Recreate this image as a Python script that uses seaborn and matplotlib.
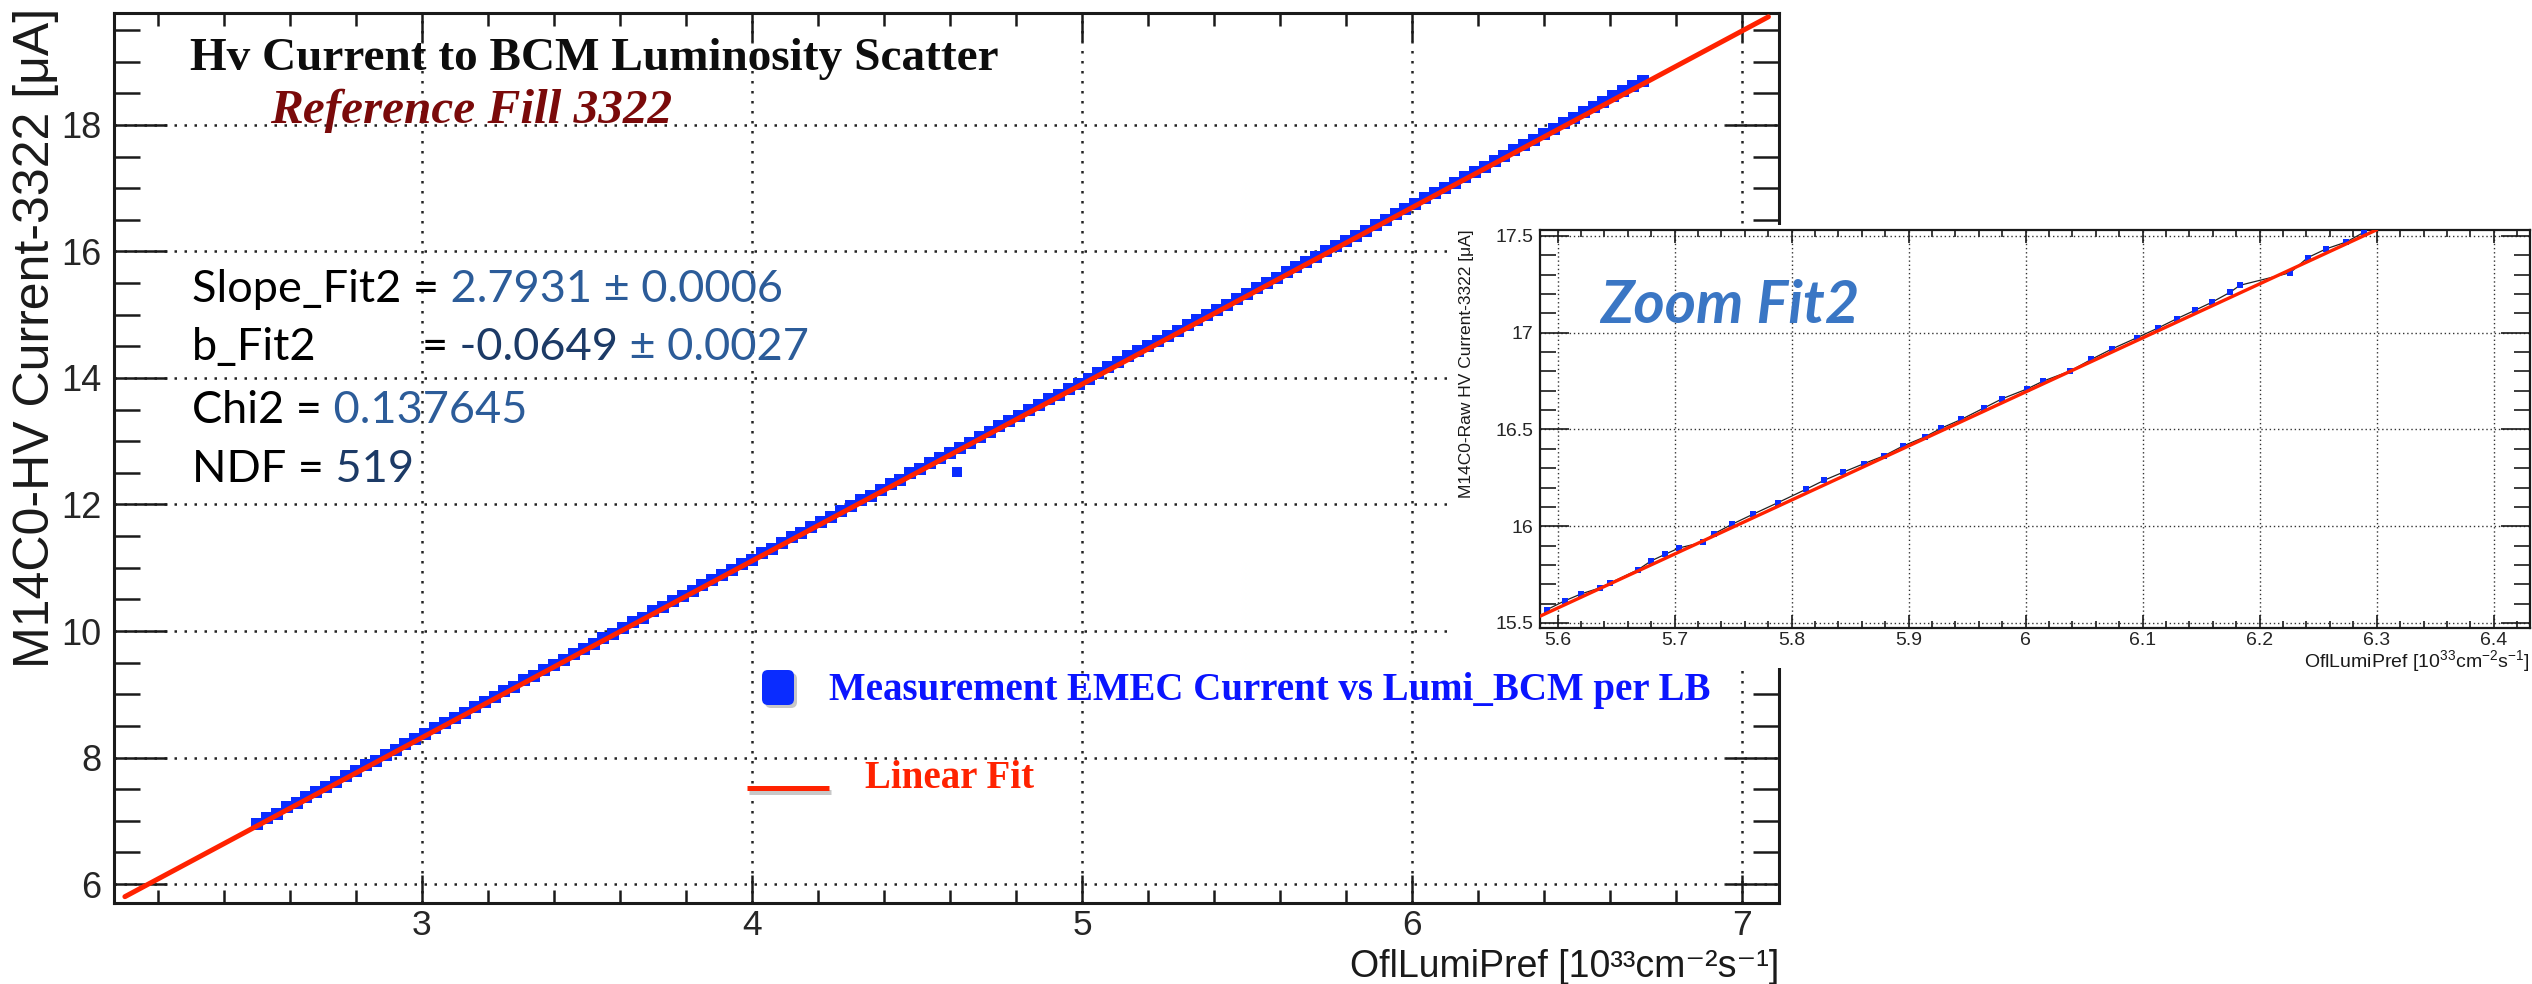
import numpy as np
import pandas as pd
import matplotlib
matplotlib.use("Agg")
import matplotlib.pyplot as plt
import seaborn as sns
from matplotlib.ticker import MultipleLocator
from matplotlib.patches import Rectangle, FancyBboxPatch
from matplotlib.lines import Line2D
from matplotlib.transforms import IdentityTransform

# ---------------- data ----------------
lumi = [2.50, 2.53, 2.56, 2.59, 2.62, 2.65, 2.68, 2.71, 2.74, 2.77,
        2.80, 2.83, 2.86, 2.89, 2.92, 2.95, 2.98, 3.01, 3.04, 3.07,
        3.10, 3.13, 3.16, 3.19, 3.22, 3.25, 3.28, 3.31, 3.34, 3.37,
        3.40, 3.43, 3.46, 3.49, 3.52, 3.55, 3.58, 3.61, 3.64, 3.67,
        3.70, 3.73, 3.76, 3.79, 3.82, 3.85, 3.88, 3.91, 3.94, 3.97,
        4.00, 4.03, 4.06, 4.09, 4.12, 4.15, 4.18, 4.21, 4.24, 4.27,
        4.30, 4.33, 4.36, 4.39, 4.42, 4.45, 4.48, 4.51, 4.54, 4.57,
        4.60, 4.63, 4.66, 4.69, 4.72, 4.75, 4.78, 4.81, 4.84, 4.87,
        4.90, 4.93, 4.96, 4.99, 5.02, 5.05, 5.08, 5.11, 5.14, 5.17,
        5.20, 5.23, 5.26, 5.29, 5.32, 5.35, 5.38, 5.41, 5.44, 5.47,
        5.50, 5.53, 5.56, 5.59, 5.62, 5.65, 5.68, 5.71, 5.74, 5.77,
        5.80, 5.83, 5.86, 5.89, 5.92, 5.95, 5.98, 6.01, 6.04, 6.07,
        6.10, 6.13, 6.16, 6.19, 6.22, 6.25, 6.28, 6.31, 6.34, 6.37,
        6.40, 6.43, 6.46, 6.49, 6.52, 6.55, 6.58, 6.61, 6.64, 6.67,
        6.70]
current = [6.95, 7.04, 7.11, 7.21, 7.28, 7.37, 7.46, 7.53, 7.62, 7.71,
           7.78, 7.88, 7.95, 8.04, 8.12, 8.21, 8.29, 8.37, 8.46, 8.54,
           8.63, 8.70, 8.80, 8.87, 8.96, 9.05, 9.12, 9.22, 9.29, 9.38,
           9.47, 9.54, 9.63, 9.72, 9.79, 9.89, 9.96, 10.05, 10.14, 10.21,
           10.31, 10.38, 10.47, 10.56, 10.63, 10.72, 10.80, 10.89, 10.97, 11.06,
           11.13, 11.23, 11.30, 11.39, 11.48, 11.55, 11.65, 11.72, 11.81, 11.90,
           11.97, 12.07, 12.14, 12.23, 12.32, 12.39, 12.49, 12.56, 12.65, 12.73,
           12.82, 12.90, 12.98, 13.07, 13.15, 13.24, 13.32, 13.40, 13.49, 13.57,
           13.66, 13.73, 13.82, 13.91, 13.99, 14.08, 14.17, 14.26, 14.34, 14.42,
           14.50, 14.58, 14.66, 14.74, 14.83, 14.91, 15.00, 15.08, 15.16, 15.25,
           15.33, 15.42, 15.50, 15.58, 15.67, 15.75, 15.83, 15.92, 16.00, 16.08,
           16.17, 16.25, 16.33, 16.42, 16.50, 16.59, 16.67, 16.75, 16.84, 16.92,
           17.00, 17.09, 17.17, 17.26, 17.34, 17.43, 17.51, 17.60, 17.68, 17.77,
           17.85, 17.94, 18.03, 18.11, 18.20, 18.28, 18.37, 18.45, 18.54, 18.62,
           18.70]
outlier_lumi = [4.62]
outlier_current = [12.51]
fit_lumi = [2.10, 7.08]
fit_current = [5.80, 19.71]

zoom_lumi = [5.591, 5.606, 5.620, 5.636, 5.645, 5.669, 5.680, 5.692, 5.704, 5.724,
             5.734, 5.749, 5.767, 5.788, 5.812, 5.828, 5.844, 5.862, 5.879, 5.895,
             5.914, 5.928, 5.945, 5.964, 5.980, 6.001, 6.015, 6.038, 6.056, 6.074,
             6.095, 6.113, 6.129, 6.145, 6.159, 6.175, 6.183, 6.226, 6.241, 6.257,
             6.274, 6.289]
zoom_current = [15.569, 15.614, 15.650, 15.681, 15.707, 15.776, 15.821, 15.855, 15.888, 15.917,
                15.962, 16.010, 16.062, 16.121, 16.190, 16.238, 16.279, 16.324, 16.364, 16.414,
                16.462, 16.507, 16.552, 16.610, 16.659, 16.709, 16.750, 16.802, 16.862, 16.917,
                16.974, 17.024, 17.072, 17.117, 17.157, 17.210, 17.245, 17.310, 17.388, 17.434,
                17.469, 17.519]
zoom_fit_lumi = [5.585, 6.30]
zoom_fit_current = [15.535, 17.532]

main_x_ticks = [3, 4, 5, 6, 7]
main_x_labels = ["3", "4", "5", "6", "7"]
main_y_ticks = [6, 8, 10, 12, 14, 16, 18]
main_y_labels = ["6", "8", "10", "12", "14", "16", "18"]
zoom_x_ticks = [5.6, 5.7, 5.8, 5.9, 6.0, 6.1, 6.2, 6.3, 6.4]
zoom_x_labels = ["5.6", "5.7", "5.8", "5.9", "6", "6.1", "6.2", "6.3", "6.4"]
zoom_y_ticks = [15.5, 16.0, 16.5, 17.0, 17.5]
zoom_y_labels = ["15.5", "16", "16.5", "17", "17.5"]

title_text = "Hv Current to BCM Luminosity Scatter"
subtitle_text = "Reference Fill 3322"
x_label = "OflLumiPref [10\u00b3\u00b3cm\u207b\u00b2s\u207b\u00b9]"
zoom_x_label = "OflLumiPref [10$^{33}$cm$^{-2}$s$^{-1}$]"
y_label = "M14C0-HV Current-3322 [\u03bcA]"
zoom_y_label = "M14C0-Raw HV Current-3322 [\u03bcA]"
legend_labels = ["Measurement EMEC Current vs Lumi_BCM per LB", "Linear Fit"]
zoom_title = "Zoom Fit2"

# ---------------- style ----------------
BLUE = "#0a2cff"
RED = "#ff2200"
TXT_BLUE = "#2c5c99"
TXT_NAVY = "#1c3a66"

W, H = 2532, 984
def fx(px): return px / W
def fy(py): return 1 - py / H

sns.set_theme(style="white")
plt.rcParams['font.family'] = ['Liberation Sans', 'DejaVu Sans']
plt.rcParams['mathtext.fontset'] = 'custom'
plt.rcParams['mathtext.rm'] = 'Liberation Sans'
plt.rcParams['mathtext.it'] = 'Liberation Sans:italic'
plt.rcParams['mathtext.bf'] = 'Liberation Sans:bold'

fig = plt.figure(figsize=(W / 100, H / 100), dpi=100)
fig.patch.set_facecolor("white")

# ---------------- main axes ----------------
ax = fig.add_axes([fx(114), fy(903), fx(1779) - fx(114), fy(13) - fy(903)])
ax.set_zorder(0)
main_df = pd.DataFrame({"lumi": lumi, "current": current})
sns.scatterplot(data=main_df, x="lumi", y="current", marker="s", s=74,
                color=BLUE, linewidth=0, ax=ax, zorder=3)
sns.scatterplot(x=outlier_lumi, y=outlier_current, marker="s", s=52,
                color=BLUE, linewidth=0, ax=ax, zorder=3)
sns.lineplot(x=fit_lumi, y=fit_current, color=RED, lw=3.6, ax=ax,
             estimator=None, sort=False, zorder=4)
ax.set(xlabel="", ylabel="")
ax.set_xlim(2.067, 7.112)
ax.set_ylim(5.70, 19.77)
ax.set_xticks(main_x_ticks, labels=main_x_labels)
ax.set_yticks(main_y_ticks, labels=main_y_labels)
ax.xaxis.set_minor_locator(MultipleLocator(0.2))
ax.yaxis.set_minor_locator(MultipleLocator(0.5))
ax.tick_params(axis="x", which="major", direction="in", length=20, width=1.8,
               top=True, bottom=True, labelsize=25.5, pad=4, color="#1a1a1a")
ax.tick_params(axis="x", which="minor", direction="in", length=9.5, width=1.8,
               top=True, bottom=True, color="#1a1a1a")
ax.tick_params(axis="y", which="major", direction="in", length=38, width=1.8,
               left=True, right=True, labelsize=26, pad=9, color="#1a1a1a")
ax.tick_params(axis="y", which="minor", direction="in", length=19, width=1.8,
               left=True, right=True, color="#1a1a1a")
ax.grid(True, which="major", color="#222222", linestyle=(0, (1, 3)), linewidth=1.8)
ax.set_axisbelow(True)
for sp in ax.spines.values():
    sp.set_linewidth(2.2)
    sp.set_color("#1a1a1a")
    sp.set_visible(True)

fig.text(fx(1779), fy(977), x_label, ha="right", va="baseline", fontsize=27,
         family=["Liberation Sans", "DejaVu Sans"], color="#1a1a1a")
fig.text(fx(36), fy(8), y_label, ha="center", va="top", rotation=90, fontsize=36, color="#1a1a1a")

# white panel holding the zoomed view
fig.add_artist(Rectangle((fx(1447), fy(668)), fx(2532) - fx(1447), fy(225) - fy(668),
                         transform=fig.transFigure, facecolor="white", edgecolor="none", zorder=2))

# ---------------- inset axes ----------------
axz = fig.add_axes([fx(1540), fy(628), fx(2530) - fx(1540), fy(230) - fy(628)])
axz.set_zorder(3)
sns.lineplot(x=zoom_lumi, y=zoom_current, color="#222222", lw=0.9, ax=axz,
             estimator=None, sort=False, zorder=2)
sns.scatterplot(x=zoom_lumi, y=zoom_current, marker="s", s=20, color=BLUE,
                linewidth=0, ax=axz, zorder=3)
sns.lineplot(x=zoom_fit_lumi, y=zoom_fit_current, color=RED, lw=2.4, ax=axz,
             estimator=None, sort=False, zorder=4)
axz.set(xlabel="", ylabel="")
axz.set_xlim(5.585, 6.431)
axz.set_ylim(15.474, 17.531)
axz.set_xticks(zoom_x_ticks, labels=zoom_x_labels)
axz.set_yticks(zoom_y_ticks, labels=zoom_y_labels)
axz.xaxis.set_minor_locator(MultipleLocator(0.02))
axz.yaxis.set_minor_locator(MultipleLocator(0.1))
axz.tick_params(axis="x", which="major", direction="in", length=9.5, width=1.2,
                top=True, bottom=True, labelsize=14, pad=3, color="#1a1a1a")
axz.tick_params(axis="x", which="minor", direction="in", length=5, width=1.2,
                top=True, bottom=True, color="#1a1a1a")
axz.tick_params(axis="y", which="major", direction="in", length=21, width=1.2,
                left=True, right=True, labelsize=14, pad=5, color="#1a1a1a")
axz.tick_params(axis="y", which="minor", direction="in", length=11.5, width=1.2,
                left=True, right=True, color="#1a1a1a")
axz.grid(True, which="major", color="#333333", linestyle=(0, (1, 2)), linewidth=1.0)
axz.set_axisbelow(True)
for sp in axz.spines.values():
    sp.set_linewidth(1.6)
    sp.set_color("#1a1a1a")
    sp.set_visible(True)

fig.text(fx(2530), fy(667), zoom_x_label, ha="right", va="baseline", fontsize=14,
         color="#1a1a1a", zorder=5)
fig.text(fx(1466), fy(229), zoom_y_label, ha="center", va="top", rotation=90, fontsize=12.5,
         color="#1a1a1a", zorder=5)
fig.text(fx(1600), fy(323), zoom_title, ha="left", va="baseline", fontsize=43,
         family=["Lato", "DejaVu Sans"], weight="bold", style="italic", color="#3a76c4", zorder=6)

# ---------------- titles ----------------
fig.text(fx(190), fy(70), title_text, ha="left", va="baseline", fontsize=34,
         family=["Liberation Serif"], weight="bold", color="#0d0d0d", zorder=5)
fig.text(fx(270), fy(123), subtitle_text, ha="left", va="baseline", fontsize=35.5,
         family=["Liberation Serif"], weight="bold", style="italic", color="#7a0a0a", zorder=5)

# ---------------- fit results ----------------
renderer = fig.canvas.get_renderer()
FIT_FONT = dict(fontsize=32.5, family=["Lato", "DejaVu Sans"])

def seq(x0, y0, pieces):
    x = x0
    for s, c in pieces:
        t = fig.text(fx(x), fy(y0), s, color=c, ha="left", va="baseline", zorder=5, **FIT_FONT)
        x = t.get_window_extent(renderer=renderer).x1

seq(192, 302, [("Slope_Fit2 =", "black"), (" 2.7931 \u00b1 0.0006", TXT_BLUE)])
seq(192, 360, [("b_Fit2", "black")])
seq(422, 360, [("=", "black"), (" -0.0649", TXT_NAVY), (" \u00b1 0.0027", TXT_BLUE)])
seq(192, 423, [("Chi2 =", "black"), (" 0.137645", TXT_BLUE)])
seq(192, 482, [("NDF =", "black"), (" 519", TXT_NAVY)])

# ---------------- legend ----------------
ident = IdentityTransform()
fig.add_artist(FancyBboxPatch((765, H - 708), 32, 35, boxstyle="round,pad=0,rounding_size=6",
                              transform=ident, facecolor="#9a9a9a", edgecolor="none",
                              alpha=0.55, zorder=4.9))
fig.add_artist(FancyBboxPatch((762, H - 705), 32, 35, boxstyle="round,pad=0,rounding_size=6",
                              transform=ident, facecolor=BLUE, edgecolor="none", zorder=5))
fig.add_artist(Line2D([749, 831], [H - 792, H - 792], transform=ident, color="#c8c8c8",
                      lw=3.6, solid_capstyle="butt", zorder=4.9))
fig.add_artist(Line2D([747, 829], [H - 788, H - 788], transform=ident, color=RED,
                      lw=3.6, solid_capstyle="butt", zorder=5))
fig.text(fx(829), fy(700), legend_labels[0], ha="left", va="baseline", fontsize=28,
         family=["Liberation Serif"], weight="bold", color="#0a14ff", zorder=5)
fig.text(fx(865), fy(788), legend_labels[1], ha="left", va="baseline", fontsize=28,
         family=["Liberation Serif"], weight="bold", color=RED, zorder=5)

fig.savefig("out.png", dpi=100)
